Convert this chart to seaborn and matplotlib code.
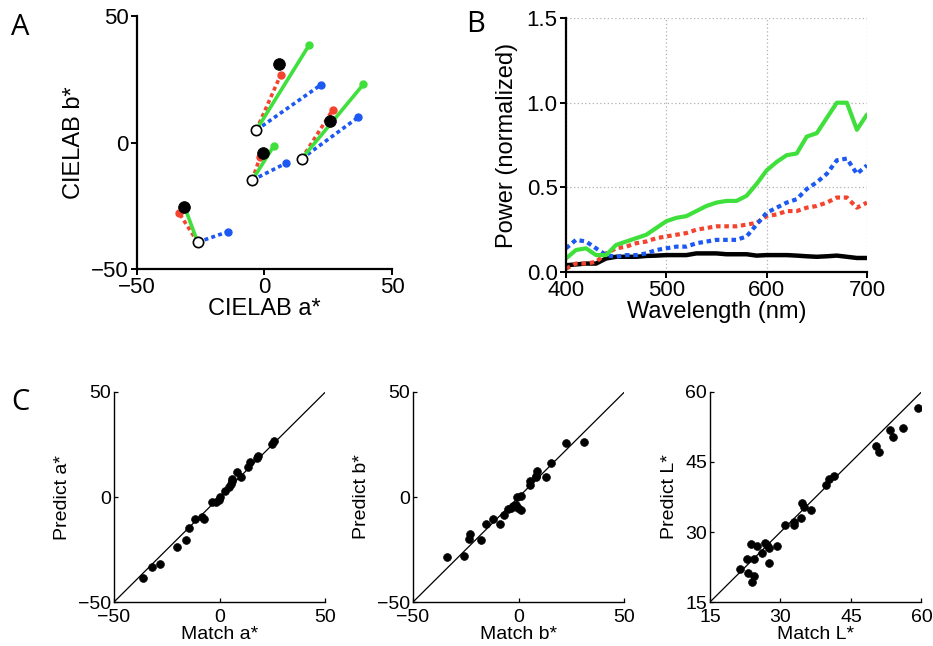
import matplotlib
matplotlib.use("Agg")
import matplotlib.pyplot as plt
import seaborn as sns
import pandas as pd

# ---------------- Panel A data (CIELAB a*, b*) ----------------
a_start = [-26.2, -3.2, -4.8, 14.6]
b_start = [-39.4, 4.9, -14.9, -6.4]
a_match = [-31.4, 5.8, -0.7, 25.7]
b_match = [-25.6, 31.2, -4.0, 8.6]
a_red = [-33.4, 6.3, -1.8, 26.7]
b_red = [-28.0, 26.6, -5.9, 12.8]
a_green = [-31.0, 17.5, 3.7, 38.8]
b_green = [-26.3, 38.5, -1.3, 23.0]
a_blue = [-14.4, 22.0, 8.4, 36.8]
b_blue = [-35.3, 22.7, -8.2, 10.0]

# ---------------- Panel B data (spectra) ----------------
wavelength = [400, 410, 420, 430, 440, 450, 460, 470, 480, 490, 500, 510, 520,
              530, 540, 550, 560, 570, 580, 590, 600, 610, 620, 630, 640, 650,
              660, 670, 680, 690, 700]
power_green = [0.08, 0.13, 0.14, 0.10, 0.10, 0.16, 0.18, 0.20, 0.22, 0.26, 0.30,
               0.32, 0.33, 0.36, 0.39, 0.41, 0.42, 0.42, 0.45, 0.52, 0.60, 0.65,
               0.69, 0.70, 0.80, 0.82, 0.91, 1.00, 1.00, 0.84, 0.93]
power_blue = [0.14, 0.19, 0.18, 0.14, 0.10, 0.09, 0.10, 0.10, 0.11, 0.13, 0.14,
              0.15, 0.15, 0.17, 0.18, 0.19, 0.19, 0.19, 0.21, 0.28, 0.35, 0.38,
              0.41, 0.43, 0.49, 0.53, 0.58, 0.66, 0.67, 0.58, 0.63]
power_red = [0.02, 0.05, 0.05, 0.06, 0.11, 0.14, 0.15, 0.17, 0.18, 0.20, 0.21,
             0.22, 0.23, 0.25, 0.26, 0.27, 0.27, 0.27, 0.28, 0.29, 0.33, 0.34,
             0.36, 0.36, 0.38, 0.39, 0.41, 0.44, 0.44, 0.38, 0.41]
power_black = [0.04, 0.045, 0.05, 0.05, 0.08, 0.09, 0.09, 0.09, 0.095, 0.097, 0.10,
               0.10, 0.10, 0.11, 0.11, 0.11, 0.105, 0.105, 0.105, 0.097, 0.10, 0.10,
               0.10, 0.097, 0.093, 0.09, 0.093, 0.097, 0.09, 0.083, 0.083]

# ---------------- Panel C data ----------------
match_a = [-36.2, -31.9, -28.1, -20.3, -16.0, -14.5, -11.6, -8.2, -7.2, -3.6, -1.6,
           -0.5, 0.3, 2.5, 4.4, 5.2, 5.7, 6.0, 8.2, 10.2, 13.4, 14.2, 17.6, 18.1,
           24.7, 25.5]
pred_a = [-38.8, -33.5, -31.8, -23.9, -20.4, -14.6, -10.6, -9.7, -10.6, -2.5, -2.2,
          -1.4, -0.2, 2.8, 4.9, 6.2, 8.5, 7.5, 12.0, 9.3, 14.4, 16.5, 18.4, 19.5,
          25.2, 26.6]
match_b = [-33.9, -25.8, -23.6, -22.9, -17.9, -15.5, -12.3, -8.9, -7.1, -5.1, -3.8,
           -2.5, -1.3, -0.8, -0.2, 1.0, 1.3, 5.1, 5.4, 8.2, 8.5, 8.0, 12.7, 15.3,
           22.5, 31.0]
pred_b = [-28.5, -28.3, -19.9, -17.4, -20.3, -13.0, -10.3, -12.8, -8.4, -5.7, -5.1,
          -4.3, -4.0, 0.2, -5.4, 0.6, -6.2, 7.6, 5.7, 10.1, 12.5, 9.5, 9.3, 16.3,
          25.5, 26.3]
match_L = [21.4, 23.0, 22.8, 23.7, 23.9, 24.4, 24.4, 25.0, 26.0, 26.7, 27.1, 27.6,
           27.6, 29.2, 31.0, 32.8, 32.9, 34.3, 34.6, 35.0, 36.4, 39.6, 40.3, 41.4,
           50.4, 51.0, 53.4, 54.0, 56.0, 59.3]
pred_L = [22.1, 21.3, 24.3, 27.5, 19.2, 20.5, 24.3, 26.9, 25.4, 27.7, 27.3, 23.3,
          26.5, 27.1, 31.4, 32.1, 31.4, 32.9, 36.2, 35.4, 34.8, 40.0, 41.4, 41.9,
          48.4, 47.2, 51.8, 50.4, 52.2, 56.6]

c_ranges = [(-50, 50), (-50, 50), (15, 60)]
c_ticks = [[-50, 0, 50], [-50, 0, 50], [15, 30, 45, 60]]
c_xlabels = ["Match a*", "Match b*", "Match L*"]
c_ylabels = ["Predict a*", "Predict b*", "Predict L*"]

GREEN = "#3fe03c"
RED = "#f4432f"
BLUE = "#1c58f2"

sns.set_style("ticks")
plt.rcParams["font.family"] = ["Liberation Sans", "DejaVu Sans"]
plt.rcParams["axes.linewidth"] = 1.6
for key in ["text.color", "axes.labelcolor", "xtick.color", "ytick.color",
            "axes.edgecolor"]:
    plt.rcParams[key] = "black"

fig = plt.figure(figsize=(9.33, 6.46), dpi=100)

DOT = (0, (1.1, 0.9))

# ---------------- Panel A ----------------
axA = fig.add_axes([0.1468, 0.5836, 0.2733, 0.3916])
for i in range(len(a_start)):
    axA.plot([a_start[i], a_red[i]], [b_start[i], b_red[i]], color=RED, lw=2.6,
             linestyle=DOT, zorder=2)
    axA.plot([a_red[i]], [b_red[i]], "o", color=RED, ms=5, zorder=2)
    axA.plot([a_start[i], a_blue[i]], [b_start[i], b_blue[i]], color=BLUE, lw=2.6,
             linestyle=DOT, zorder=3)
    axA.plot([a_blue[i]], [b_blue[i]], "o", color=BLUE, ms=5, zorder=3)
    axA.plot([a_start[i], a_green[i]], [b_start[i], b_green[i]], color=GREEN, lw=2.6,
             zorder=4)
    axA.plot([a_green[i]], [b_green[i]], "o", color=GREEN, ms=5, zorder=4)
sns.scatterplot(x=a_match, y=b_match, ax=axA, color="black", s=70, edgecolor="black",
                zorder=5, legend=False)
sns.scatterplot(x=a_start, y=b_start, ax=axA, color="white", s=55, edgecolor="black",
                linewidth=1.2, zorder=6, legend=False)
axA.set_xlim(-50, 50)
axA.set_ylim(-50, 50)
axA.set_xticks([-50, 0, 50])
axA.set_yticks([-50, 0, 50])
axA.tick_params(labelsize=16, length=4, width=1.4, direction="out", pad=2)
axA.set_xlabel("CIELAB a*", fontsize=17, labelpad=0)
axA.set_ylabel("CIELAB b*", fontsize=17, labelpad=4)
sns.despine(ax=axA)

# ---------------- Panel B ----------------
axB = fig.add_axes([0.6066, 0.5789, 0.3226, 0.3932])
axB.grid(True, color="#b0b0b0", linestyle=(0, (1, 2)), linewidth=0.9)
axB.set_axisbelow(True)
sns.lineplot(x=wavelength, y=power_black, ax=axB, color="black", lw=3.2, zorder=3)
sns.lineplot(x=wavelength, y=power_red, ax=axB, color=RED, lw=3.0, linestyle=DOT, zorder=4)
sns.lineplot(x=wavelength, y=power_blue, ax=axB, color=BLUE, lw=3.0, linestyle=DOT, zorder=5)
sns.lineplot(x=wavelength, y=power_green, ax=axB, color=GREEN, lw=3.0, zorder=6)
axB.set_xlim(400, 700)
axB.set_ylim(0, 1.5)
axB.set_xticks([400, 500, 600, 700])
axB.set_yticks([0.0, 0.5, 1.0, 1.5])
axB.set_yticklabels(["0.0", "0.5", "1.0", "1.5"])
axB.tick_params(labelsize=16, length=4, width=1.4, direction="out", pad=2)
axB.set_xlabel("Wavelength (nm)", fontsize=17, labelpad=0)
axB.set_ylabel("Power (normalized)", fontsize=17, labelpad=6)
sns.despine(ax=axB)
for sp in ["left", "bottom"]:
    axB.spines[sp].set_zorder(10)

# ---------------- Panel C ----------------
c_lefts = [0.1222, 0.4427, 0.7610]
c_data = [(match_a, pred_a), (match_b, pred_b), (match_L, pred_L)]
for k in range(3):
    ax = fig.add_axes([c_lefts[k], 0.0681, 0.2266, 0.3251])
    lo, hi = c_ranges[k]
    ax.plot([lo, hi], [lo, hi], color="black", lw=0.9, zorder=1)
    df = pd.DataFrame({"x": c_data[k][0], "y": c_data[k][1]})
    sns.scatterplot(data=df, x="x", y="y", ax=ax, color="black", s=32,
                    edgecolor="black", zorder=3, legend=False)
    ax.set_xlim(lo, hi)
    ax.set_ylim(lo, hi)
    ax.set_xticks(c_ticks[k])
    ax.set_yticks(c_ticks[k])
    ax.tick_params(labelsize=14, length=3, width=0.9, direction="in", pad=2)
    ax.tick_params(axis="x", pad=5)
    ax.set_xlabel(c_xlabels[k], fontsize=14, labelpad=0)
    ax.set_ylabel(c_ylabels[k], fontsize=14, labelpad=5)
    for sp in ["left", "bottom"]:
        ax.spines[sp].set_linewidth(1.0)
    sns.despine(ax=ax)

# ---------------- Panel letters ----------------
lfont = ["Open Sans", "DejaVu Sans"]
fig.text(0.012, 0.946, "A", fontsize=21, family=lfont)
fig.text(0.500, 0.950, "B", fontsize=21, family=lfont)
fig.text(0.012, 0.365, "C", fontsize=21, family=lfont)

fig.savefig("out.png", dpi=100)
